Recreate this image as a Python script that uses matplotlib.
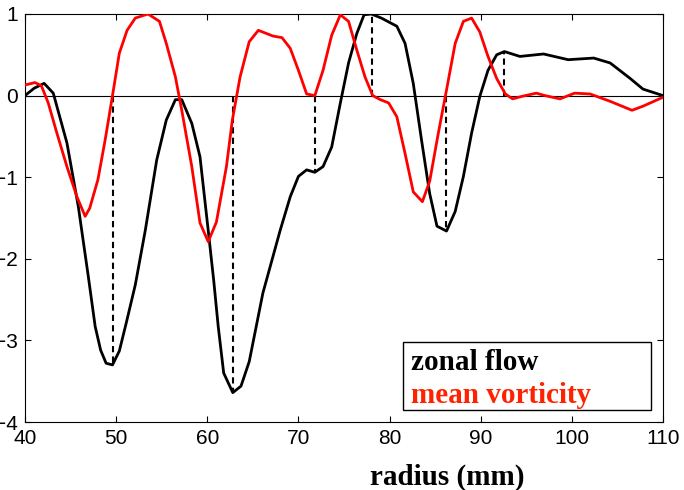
import numpy as np
import matplotlib
matplotlib.use("Agg")
import matplotlib.pyplot as plt
from matplotlib.patches import Rectangle

# zonal flow (black)
zf_r = [40.0, 41.0, 42.1, 43.1, 44.6, 45.85, 46.95, 47.7, 48.3, 48.9, 49.6, 50.35, 51.1,
        52.1, 53.2, 54.45, 55.5, 56.5, 57.2, 58.3, 59.2, 60.1, 60.7, 61.2, 61.8, 62.8,
        63.7, 64.6, 66.1, 68.0, 69.1, 70.0, 70.9, 71.8, 72.7, 73.65, 74.6, 75.5, 76.4,
        77.2, 78.0, 79.1, 80.8, 81.7, 82.6, 83.5, 84.4, 85.2, 86.25, 87.2, 88.1, 89.0,
        89.9, 90.8, 91.75, 92.6, 94.3, 96.9, 99.6, 102.4, 104.2, 106.4, 107.8, 110.0]
zf_v = [0.0, 0.09, 0.15, 0.03, -0.58, -1.36, -2.22, -2.83, -3.12, -3.28, -3.30, -3.13, -2.79,
        -2.32, -1.65, -0.79, -0.30, -0.05, -0.05, -0.34, -0.75, -1.65, -2.26, -2.83, -3.40, -3.64,
        -3.56, -3.26, -2.42, -1.65, -1.24, -0.99, -0.91, -0.94, -0.87, -0.63, -0.09, 0.40, 0.76,
        0.99, 1.0, 0.95, 0.85, 0.64, 0.15, -0.54, -1.20, -1.60, -1.66, -1.42, -0.99, -0.46,
        -0.01, 0.31, 0.50, 0.54, 0.48, 0.51, 0.44, 0.46, 0.40, 0.21, 0.08, 0.0]

# mean vorticity (red)
mv_r = [40.0, 41.1, 41.8, 42.55, 43.5, 44.6, 45.7, 46.6, 47.1, 48.0, 48.8, 49.6, 50.35,
        51.2, 52.1, 53.5, 54.75, 55.5, 56.5, 57.2, 58.3, 59.2, 60.1, 61.0, 62.1, 62.75,
        63.6, 64.6, 65.6, 67.2, 68.2, 69.1, 70.0, 70.9, 71.8, 72.7, 73.65, 74.6, 75.5,
        76.4, 77.3, 78.15, 79.0, 79.9, 80.8, 81.7, 82.6, 83.6, 84.4, 85.35, 86.25, 87.2,
        88.1, 89.0, 89.9, 90.8, 91.75, 92.7, 93.5, 94.5, 96.1, 97.05, 98.7, 100.3, 102.0,
        104.2, 106.6, 107.8, 110.0]
mv_v = [0.13, 0.16, 0.12, -0.09, -0.46, -0.87, -1.24, -1.48, -1.38, -1.03, -0.54, 0.0, 0.52,
        0.80, 0.95, 1.0, 0.91, 0.64, 0.23, -0.18, -0.87, -1.56, -1.79, -1.55, -0.87, -0.30,
        0.23, 0.66, 0.80, 0.73, 0.71, 0.58, 0.31, 0.02, 0.0, 0.31, 0.74, 0.99, 0.91,
        0.56, 0.23, 0.0, -0.05, -0.09, -0.26, -0.71, -1.18, -1.30, -1.05, -0.46, 0.07, 0.64,
        0.91, 0.95, 0.78, 0.48, 0.21, 0.02, -0.04, -0.01, 0.03, 0.0, -0.04, 0.03, 0.02,
        -0.07, -0.18, -0.13, -0.02]

# radii of the dashed connectors (vorticity zero crossings)
dash_r = [49.7, 62.85, 71.8, 78.1, 86.2, 92.6]

x_ticks = [40, 50, 60, 70, 80, 90, 100, 110]
y_ticks = [-4, -3, -2, -1, 0, 1]

fig = plt.figure(figsize=(6.84, 4.90), dpi=100)
ax = fig.add_axes([25 / 684, 1 - 422 / 490, 638 / 684, 408 / 490])

ax.axhline(0, color="black", lw=0.8, zorder=1)
for r in dash_r:
    top = np.interp(r, zf_r, zf_v)
    ax.plot([r, r], [0, top], color="black", lw=1.5, ls=(0, (3, 2)), zorder=2)

ax.plot(zf_r, zf_v, color="black", lw=2, zorder=3)
ax.plot(mv_r, mv_v, color="red", lw=2, zorder=4)

ax.set_xlim(40, 110)
ax.set_ylim(-4, 1)
ax.set_xticks(x_ticks)
ax.set_yticks(y_ticks)
ax.tick_params(direction="in", top=True, right=True, length=4, labelsize=15, pad=5)
for lab in ax.get_xticklabels() + ax.get_yticklabels():
    lab.set_family("Liberation Sans")

# legend box drawn by hand (text only, no handles)
fig.patches.append(Rectangle((403 / 684, 1 - 410 / 490), 248 / 684, 68 / 490,
                             transform=fig.transFigure, facecolor="white",
                             edgecolor="black", lw=1, zorder=5))
fig.text(411 / 684, 1 - 370 / 490, "zonal flow", ha="left", va="baseline",
         family="Liberation Serif", weight="bold", size=21, color="black", zorder=6)
fig.text(411 / 684, 1 - 403 / 490, "mean vorticity", ha="left", va="baseline",
         family="Liberation Serif", weight="bold", size=21, color="#ff2200", zorder=6)

fig.text(447 / 684, 1 - 477 / 490, "radius (mm)", ha="center", va="center",
         family="Liberation Serif", weight="bold", size=21)

fig.savefig("out.png", dpi=100)
